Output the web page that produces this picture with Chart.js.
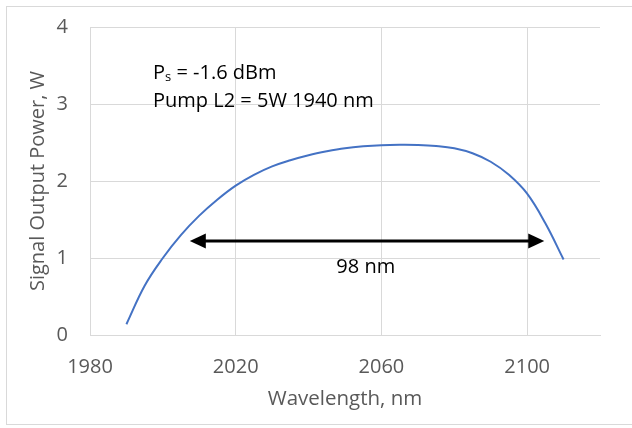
<!DOCTYPE html>
<html>
<head>
<meta charset="utf-8">
<script src="https://cdn.jsdelivr.net/npm/chart.js@4"></script>
<style>
  html, body { margin: 0; padding: 0; background: #fff; }
  #wrap { position: relative; width: 632px; height: 428px; }
  #frame { position: absolute; left: 6px; top: 6px; width: 640px; height: 419px; border: 1px solid #d9d9d9; box-sizing: border-box; }
  canvas { position: absolute; left: 0; top: 0; }
</style>
</head>
<body>
<div id="wrap">
  <div id="frame"></div>
  <canvas id="c" width="632" height="428"></canvas>
</div>
<script>
// ---- data ----
const wavelengths = [1990,1995,2000,2005,2010,2015,2020,2025,2030,2035,2040,2045,2050,2055,2060,2065,2070,2075,2080,2085,2090,2095,2100,2105,2110];
const outputPower = [0.14,0.64,1.00,1.30,1.55,1.76,1.94,2.08,2.19,2.27,2.335,2.385,2.425,2.45,2.465,2.47,2.468,2.455,2.425,2.36,2.25,2.08,1.835,1.45,0.98];
const xTickValues = [1980, 2020, 2060, 2100];
const yTickValues = [0, 1, 2, 3, 4];
const arrowX = [2007.4, 2104.7];
const arrowY = 1.22;
const bandwidthLabel = "98 nm";
const infoLines = ["-1.6 dBm", "Pump L2 = 5W 1940 nm"];

const FONT = "'Open Sans', 'DejaVu Sans', sans-serif";
const GRID = '#d9d9d9';
const TXT = '#595959';

const annotate = {
  id: 'annotate',
  afterDatasetsDraw(chart) {
    const {ctx, scales: {x, y}} = chart;
    ctx.save();
    const x1 = x.getPixelForValue(arrowX[0]);
    const x2 = x.getPixelForValue(arrowX[1]);
    const ay = y.getPixelForValue(arrowY);
    const headL = 16, headW = 7.5;
    ctx.strokeStyle = '#000';
    ctx.fillStyle = '#000';
    ctx.lineWidth = 3;
    ctx.beginPath();
    ctx.moveTo(x1 + headL - 1, ay);
    ctx.lineTo(x2 - headL + 1, ay);
    ctx.stroke();
    ctx.beginPath();
    ctx.moveTo(x1, ay); ctx.lineTo(x1 + headL, ay - headW); ctx.lineTo(x1 + headL, ay + headW); ctx.closePath(); ctx.fill();
    ctx.beginPath();
    ctx.moveTo(x2, ay); ctx.lineTo(x2 - headL, ay - headW); ctx.lineTo(x2 - headL, ay + headW); ctx.closePath(); ctx.fill();

    ctx.font = "20px " + FONT;
    ctx.textAlign = 'center';
    ctx.textBaseline = 'alphabetic';
    ctx.fillText(bandwidthLabel, x.getPixelForValue(2055.7), y.getPixelForValue(0.8));

    ctx.textAlign = 'left';
    const tx = x.getPixelForValue(1997.3);
    const b1 = y.getPixelForValue(3.32);
    const b2 = y.getPixelForValue(2.96);
    ctx.font = "20px " + FONT;
    ctx.fillText("P", tx, b1);
    const pw = ctx.measureText("P").width;
    ctx.font = "13px " + FONT;
    ctx.fillText("s", tx + pw, b1 + 2);
    const sw = ctx.measureText("s").width;
    ctx.font = "20px " + FONT;
    ctx.fillText(" = " + infoLines[0], tx + pw + sw, b1);
    ctx.fillText(infoLines[1], tx, b2);
    ctx.restore();
  }
};

new Chart(document.getElementById('c'), {
  type: 'line',
  data: {
    datasets: [{
      data: wavelengths.map((w, i) => ({x: w, y: outputPower[i]})),
      borderColor: '#4472C4',
      borderWidth: 2,
      pointRadius: 0,
      fill: false,
      tension: 0.4
    }]
  },
  options: {
    responsive: false,
    animation: false,
    devicePixelRatio: 1,
    layout: { padding: { left: 0, right: 32, top: 27, bottom: 0 } },
    plugins: { legend: { display: false }, tooltip: { enabled: false } },
    scales: {
      x: {
        type: 'linear',
        min: 1980, max: 2120,
        afterBuildTicks: s => { s.ticks = xTickValues.map(v => ({value: v})); },
        afterFit: s => { s.height = 93; },
        grid: { color: GRID, drawTicks: false },
        border: { color: GRID },
        ticks: { color: TXT, font: { family: FONT, size: 20 }, padding: 20, maxRotation: 0, callback: v => String(v) },
        title: { display: true, text: 'Wavelength, nm', color: TXT, font: { family: FONT, size: 20.5 }, padding: { top: 0, bottom: 16.5 } }
      },
      y: {
        min: 0, max: 4,
        afterBuildTicks: s => { s.ticks = yTickValues.map(v => ({value: v})); },
        afterFit: s => { s.width = 90; s.paddingTop = 0; s.paddingBottom = 0; },
        grid: { color: GRID, drawTicks: false },
        border: { color: GRID },
        ticks: { color: TXT, font: { family: FONT, size: 20 }, padding: 22 },
        title: { display: true, text: 'Signal Output Power, W', color: TXT, font: { family: FONT, size: 20 }, padding: { top: 26, bottom: 0 } }
      }
    }
  },
  plugins: [annotate]
});
</script>
</body>
</html>
